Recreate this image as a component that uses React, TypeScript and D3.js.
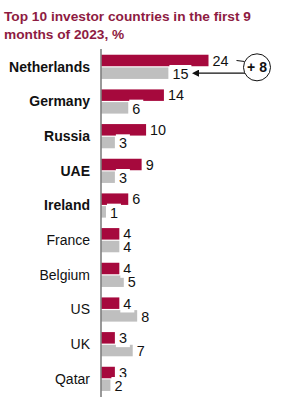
import React from 'react';
import * as d3 from 'd3';

const countries = ['Netherlands', 'Germany', 'Russia', 'UAE', 'Ireland', 'France', 'Belgium', 'US', 'UK', 'Qatar'];
const boldCountries = ['Netherlands', 'Germany', 'Russia', 'UAE', 'Ireland'];
const values2023 = [24, 14, 10, 9, 6, 4, 4, 4, 3, 3];
const values2022 = [15, 6, 3, 3, 1, 4, 5, 8, 7, 2];
const titleLines = ['Top 10 investor countries in the first 9', 'months of 2023, %'];
const annotation = '+ 8';

const RED = '#A6093D';
const GRAY = '#BFBFBF';
const TITLE = '#8E1B42';
const FONT = '"Liberation Sans", Arial, sans-serif';

const W = 284;
const H = 409;

const App = () => {
  const x = d3.scaleLinear().domain([0, 24]).range([101.5, 208.5]);
  const y = d3.scaleBand<string>().domain(countries).range([49.5, 396.2]);
  const barH = 11.5;
  const gap = 1.2;
  const digitW = 8;

  const rows = countries.map((c, i) => {
    const mid = (y(c) as number) + y.bandwidth() / 2;
    return {
      c,
      a: values2023[i],
      b: values2022[i],
      redY: mid - gap / 2 - barH,
      grayY: mid + gap / 2,
      mid,
    };
  });

  // value label with a white box behind it, like the original
  const label = (v: number, yc: number, key: string) => {
    const x0 = x(v);
    const w = String(v).length * digitW;
    return (
      <g key={key}>
        <rect x={x0 + 1} y={yc - 8.7} width={w + 6} height={18} fill="#fff" />
        <text x={x0 + 4} y={yc} dy="0.37em" fontSize={14.4} fill="#111" fontFamily={FONT}>
          {v}
        </text>
      </g>
    );
  };

  // annotation geometry, from first row
  const r0 = rows[0];
  const redMid = r0.redY + barH / 2;
  const grayMid = r0.grayY + barH / 2;
  const cx = 257;
  const cy = (redMid + grayMid) / 2 + 0.5;
  const rad = 13.5;
  const arrowTip = x(r0.b) + String(r0.b).length * digitW + 14;

  return (
    <svg width={W} height={H} style={{ position: 'absolute', left: 0, top: 0 }}>
      <defs>
        <marker id="arr" viewBox="0 0 10 10" refX="1" refY="5" markerWidth="6" markerHeight="6" orient="auto-start-reverse">
          <path d="M0,0 L10,5 L0,10 z" fill="#111" />
        </marker>
      </defs>
      <rect width={W} height={H} fill="#fff" />
      {titleLines.map((t, i) => (
        <text key={t} x={4} y={21 + i * 18} fontSize={13.7} fontWeight="bold" fill={TITLE} fontFamily={FONT}>
          {t}
        </text>
      ))}

      {rows.map((r) => (
        <text
          key={'l' + r.c}
          x={90}
          y={r.mid}
          dy="0.35em"
          textAnchor="end"
          fontSize={14}
          fontWeight={boldCountries.includes(r.c) ? 'bold' : 'normal'}
          fill="#111"
          fontFamily={FONT}
        >
          {r.c}
        </text>
      ))}

      {rows.map((r) => (
        <rect key={'r' + r.c} x={x(0)} y={r.redY} width={x(r.a) - x(0)} height={barH} fill={RED} />
      ))}
      {rows.map((r) => (
        <rect key={'g' + r.c} x={x(0)} y={r.grayY} width={x(r.b) - x(0)} height={barH} fill={GRAY} />
      ))}
      {rows.map((r) => label(r.a, r.redY + barH / 2, 'ra' + r.c))}
      {rows.map((r) => label(r.b, r.grayY + barH / 2 + 0.5, 'gb' + r.c))}

      <line x1={x(0) - 0.5} x2={x(0) - 0.5} y1={49} y2={397} stroke="#555" strokeWidth={1.2} />

      <line x1={x(r0.a) + 28} x2={cx - rad + 1} y1={redMid} y2={redMid + 1} stroke="#111" strokeWidth={1} />
      <line x1={cx - rad + 3} x2={arrowTip} y1={grayMid} y2={grayMid} stroke="#111" strokeWidth={1.2} markerEnd="url(#arr)" />
      <circle cx={cx} cy={cy} r={rad} fill="#fff" stroke="#111" strokeWidth={1} />
      <text x={cx} y={cy} dy="0.36em" textAnchor="middle" fontSize={14} fontWeight="bold" fill="#111" fontFamily={FONT}>
        {annotation}
      </text>
    </svg>
  );
};

export default App;
